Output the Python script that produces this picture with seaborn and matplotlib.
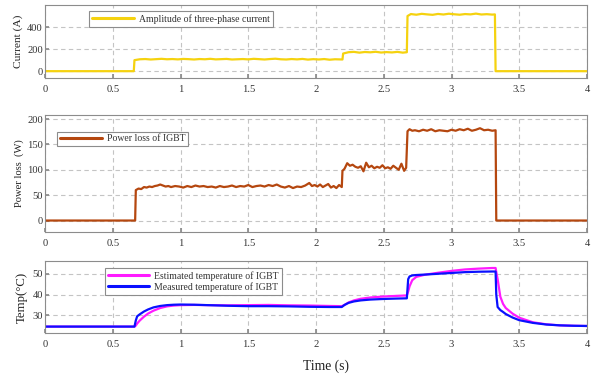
import matplotlib
matplotlib.use("Agg")
import matplotlib.pyplot as plt
import seaborn as sns
import pandas as pd

# ---------------- data ----------------
cur_t = [0.00, 0.655, 0.66, 0.70, 0.74, 0.78, 0.82, 0.86, 0.90, 0.94,
         0.98, 1.02, 1.06, 1.10, 1.14, 1.18, 1.22, 1.26, 1.30, 1.34,
         1.38, 1.42, 1.46, 1.50, 1.54, 1.58, 1.62, 1.66, 1.70, 1.74,
         1.78, 1.82, 1.86, 1.90, 1.94, 1.98, 2.02, 2.06, 2.10, 2.14,
         2.195, 2.20, 2.24, 2.28, 2.32, 2.36, 2.40, 2.44, 2.48, 2.52,
         2.56, 2.60, 2.64, 2.67, 2.675, 2.70, 2.74, 2.78, 2.82, 2.86,
         2.90, 2.94, 2.98, 3.02, 3.06, 3.10, 3.14, 3.18, 3.22, 3.26,
         3.30, 3.32, 3.325, 4.00]
cur_v = [0, 0, 100, 108, 110, 106, 109, 112, 108, 110,
         107, 111, 109, 106, 110, 108, 112, 107, 109, 111,
         106, 108, 110, 107, 112, 109, 106, 110, 113, 108,
         106, 110, 107, 111, 105, 109, 106, 110, 104, 108,
         106, 160, 172, 175, 168, 174, 171, 176, 169, 173,
         170, 175, 168, 172, 500, 518, 512, 520, 515, 511,
         519, 514, 521, 516, 512, 518, 515, 522, 514, 517,
         513, 515, 0, 0]

pw_t = [0.00, 0.665, 0.67, 0.69, 0.71, 0.73, 0.75, 0.77, 0.79, 0.81,
        0.83, 0.85, 0.87, 0.89, 0.91, 0.93, 0.96, 0.99, 1.02, 1.05,
        1.08, 1.11, 1.14, 1.17, 1.20, 1.23, 1.26, 1.29, 1.32, 1.35,
        1.38, 1.41, 1.44, 1.47, 1.50, 1.53, 1.56, 1.59, 1.62, 1.65,
        1.68, 1.71, 1.74, 1.77, 1.80, 1.83, 1.86, 1.89, 1.92, 1.95,
        1.97, 1.99, 2.01, 2.03, 2.05, 2.07, 2.09, 2.11, 2.13, 2.15,
        2.17, 2.19, 2.195, 2.21, 2.23, 2.25, 2.27, 2.29, 2.31, 2.33,
        2.35, 2.37, 2.39, 2.41, 2.43, 2.45, 2.47, 2.49, 2.51, 2.53,
        2.55, 2.57, 2.59, 2.61, 2.63, 2.65, 2.665, 2.675, 2.69, 2.71,
        2.73, 2.76, 2.79, 2.82, 2.85, 2.88, 2.91, 2.94, 2.97, 3.00,
        3.03, 3.06, 3.09, 3.12, 3.15, 3.18, 3.21, 3.24, 3.27, 3.30,
        3.325, 3.33, 4.00]
pw_v = [0, 0, 60, 63, 62, 66, 65, 67, 66, 68,
        69, 71, 69, 67, 68, 66, 68, 67, 65, 68,
        66, 69, 67, 68, 66, 67, 65, 68, 66, 67,
        69, 66, 68, 67, 70, 66, 68, 69, 67, 70,
        68, 71, 67, 65, 68, 64, 67, 66, 69, 74,
        68, 70, 67, 71, 66, 69, 72, 65, 68, 64,
        70, 66, 98, 102, 113, 108, 110, 106, 104, 107,
        97, 114, 105, 108, 103, 106, 104, 109, 103, 105,
        102, 108, 104, 100, 112, 98, 104, 176, 180, 177,
        178, 176, 179, 177, 180, 176, 178, 177, 176, 179,
        177, 180, 178, 181, 177, 179, 182, 178, 179, 177,
        178, 0, 0]

tm_t = [0.00, 0.66, 0.67, 0.68, 0.70, 0.73, 0.76, 0.80, 0.85, 0.90,
        0.95, 1.00, 1.10, 1.20, 1.35, 1.50, 1.65, 1.80, 1.95, 2.10,
        2.19, 2.21, 2.24, 2.28, 2.33, 2.40, 2.50, 2.60, 2.67, 2.68,
        2.69, 2.71, 2.74, 2.80, 2.90, 3.00, 3.10, 3.20, 3.30, 3.325,
        3.33, 3.34, 3.36, 3.38, 3.40, 3.45, 3.50, 3.60, 3.70, 3.80,
        3.90, 4.00]
temp_est = [24.5, 24.5, 25.0, 26.0, 27.5, 29.3, 30.8, 32.2, 33.5, 34.3,
            34.7, 34.9, 35.0, 34.9, 34.8, 34.9, 35.0, 34.8, 34.7, 34.5,
            34.4, 35.0, 36.2, 37.2, 38.0, 38.6, 39.1, 39.4, 39.6, 41.5,
            44.0, 47.0, 48.6, 49.6, 50.6, 51.5, 52.2, 52.6, 52.9, 52.9,
            51.0, 47.5, 39.0, 35.5, 33.5, 30.8, 28.8, 26.6, 25.6, 25.1,
            24.9, 24.8]
temp_meas = [24.5, 24.5, 27.5, 29.5, 30.5, 31.8, 32.8, 33.8, 34.5, 34.9,
             35.1, 35.2, 35.1, 34.9, 34.6, 34.4, 34.4, 34.3, 34.1, 34.0,
             34.0, 35.0, 36.0, 36.7, 37.2, 37.6, 37.9, 38.1, 38.2, 47.5,
             48.8, 49.3, 49.5, 49.7, 50.1, 50.5, 50.9, 51.1, 51.2, 51.2,
             40.0, 34.0, 32.5, 31.6, 30.6, 28.9, 27.6, 26.3, 25.5, 25.1,
             24.9, 24.8]

x_ticks = [0, 0.5, 1, 1.5, 2, 2.5, 3, 3.5, 4]
x_tick_labels = ["0", "0.5", "1", "1.5", "2", "2.5", "3", "3.5", "4"]

# ---------------- style ----------------
sns.set_theme(style="whitegrid")
plt.rcParams["font.family"] = ["Liberation Serif", "DejaVu Serif"]
plt.rcParams.update({
    "grid.linestyle": (0, (4, 3)),
    "grid.color": "#c4c4c4",
    "grid.linewidth": 0.8,
    "axes.edgecolor": "#8c8c8c",
    "axes.linewidth": 0.8,
    "xtick.color": "#8c8c8c",
    "ytick.color": "#8c8c8c",
    "xtick.labelcolor": "#333333",
    "ytick.labelcolor": "#333333",
    "xtick.direction": "in",
    "ytick.direction": "in",
    "xtick.major.size": 3,
    "ytick.major.size": 3,
    "xtick.bottom": True,
    "ytick.left": True,
    "xtick.labelsize": 7.6,
    "ytick.labelsize": 7.6,
})

fig = plt.figure(figsize=(5.98, 3.80), dpi=100)
ax1 = fig.add_axes([0.0753, 0.7947, 0.9064, 0.1921])
ax2 = fig.add_axes([0.0753, 0.3903, 0.9064, 0.3070])
ax3 = fig.add_axes([0.0753, 0.1237, 0.9064, 0.1895])

df_cur = pd.DataFrame({"t": cur_t, "v": cur_v})
df_pw = pd.DataFrame({"t": pw_t, "v": pw_v})
df_tm = pd.DataFrame({"t": tm_t, "est": temp_est, "meas": temp_meas})

sns.lineplot(data=df_cur, x="t", y="v", ax=ax1, sort=False, estimator=None,
             color="#f5d20f", linewidth=1.6, label="Amplitude of three-phase current")
sns.lineplot(data=df_pw, x="t", y="v", ax=ax2, sort=False, estimator=None,
             color="#b5470f", linewidth=1.6, label="Power loss of IGBT")
sns.lineplot(data=df_tm, x="t", y="est", ax=ax3, sort=False, estimator=None,
             color="#ff1aff", linewidth=1.6, label="Estimated temperature of IGBT")
sns.lineplot(data=df_tm, x="t", y="meas", ax=ax3, sort=False, estimator=None,
             color="#0a10ff", linewidth=1.6, label="Measured temperature of IGBT")

for ax in (ax1, ax2, ax3):
    ax.set_xlim(0, 4)
    ax.set_xticks(x_ticks)
    ax.set_xticklabels(x_tick_labels)
    ax.set_xlabel("")
    ax.tick_params(axis="x", pad=5)
    ax.tick_params(axis="y", pad=1.5)
    for s in ax.spines.values():
        s.set_color("#8c8c8c")

ax1.set_ylim(-62, 600)
ax1.set_yticks([0, 200, 400])
ax2.set_ylim(-22, 208)
ax2.set_yticks([0, 50, 100, 150, 200])
ax3.set_ylim(21.4, 56.3)
ax3.set_yticks([30, 40, 50])

ax1.set_ylabel("Current (A)", fontsize=8.2, color="#222222")
ax1.yaxis.set_label_coords(-0.040, 0.5)
ax2.set_ylabel("Power loss  (W)", fontsize=7.6, color="#222222")
ax2.yaxis.set_label_coords(-0.039, 0.5)
ax3.set_ylabel("Temp(\u00b0C)", fontsize=9.2, color="#222222")
ax3.yaxis.set_label_coords(-0.031, 0.5)

leg_kw = dict(frameon=True, fancybox=False, edgecolor="#8c8c8c", framealpha=1,
              fontsize=7, handlelength=4.3, borderpad=0.3, handletextpad=0.5)
l1 = ax1.legend(loc="upper center", bbox_to_anchor=(0.251, 0.985), **leg_kw)
l2 = ax2.legend(loc="upper left", bbox_to_anchor=(0.014, 0.9), **leg_kw)
l3 = ax3.legend(loc="upper left", bbox_to_anchor=(0.101, 0.97), labelspacing=0.15, **leg_kw)
for lg in (l1, l2, l3):
    lg.get_frame().set_linewidth(0.8)
    for t in lg.get_texts():
        t.set_color("#333333")
    for ln in lg.get_lines():
        ln.set_linewidth(2.2)

fig.text(0.545, 0.037, "Time (s)", ha="center", va="center", fontsize=9.8, color="#222222")

fig.savefig("out.png", dpi=100)
